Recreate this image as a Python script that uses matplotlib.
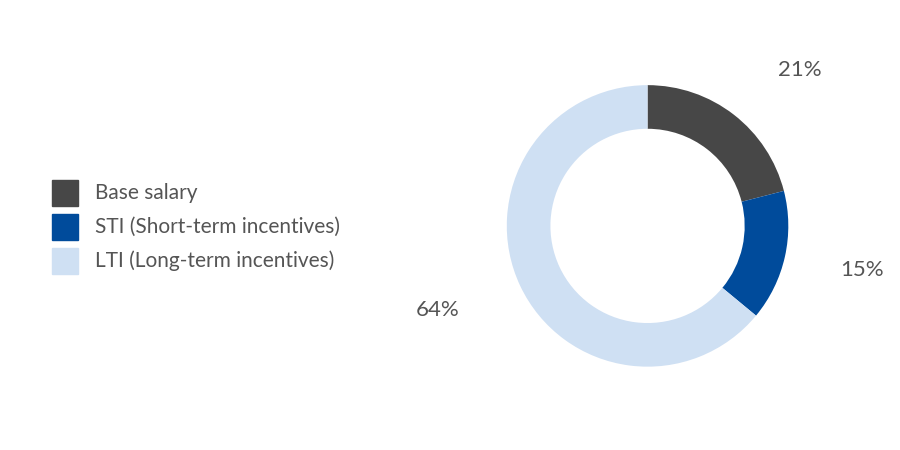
import matplotlib
matplotlib.use("Agg")
import matplotlib.pyplot as plt
from matplotlib.patches import Rectangle

categories = ["Base salary", "STI (Short-term incentives)", "LTI (Long-term incentives)"]
values = [21, 15, 64]
labels = ["21%", "15%", "64%"]
colors = ["#474747", "#004b9b", "#cfe0f3"]

plt.rcParams['font.family'] = ['Lato', 'DejaVu Sans']
fig = plt.figure(figsize=(9, 4.5), dpi=100)
ax = fig.add_axes([0.524, 0.107, 0.391, 0.782])
ax.pie(values, colors=colors, startangle=90, counterclock=False,
       wedgeprops=dict(width=0.31, edgecolor='none'))
ax.set_aspect('equal')

txt = "#555555"
fig.text(800/900, 1-70/450, labels[0], fontsize=16, color=txt, ha='center', va='center')
fig.text(862/900, 1-270/450, labels[1], fontsize=16, color=txt, ha='center', va='center')
fig.text(438/900, 1-310/450, labels[2], fontsize=16, color=txt, ha='center', va='center')

for i, (c, col) in enumerate(zip(categories, colors)):
    yc = [193, 227, 261][i]
    fig.patches.append(Rectangle((52/900, 1-(yc+13)/450), 26/900, 26/450,
                                 transform=fig.transFigure, color=col, figure=fig))
    fig.text(95/900, 1-yc/450, c, fontsize=15, color=txt, ha='left', va='center')

fig.savefig("out.png", dpi=100)
